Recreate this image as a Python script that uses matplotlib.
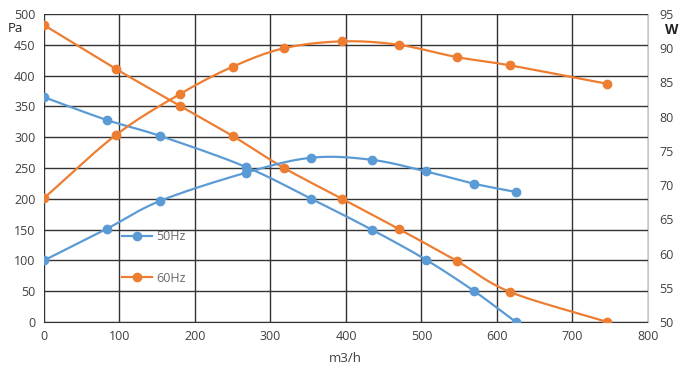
import numpy as np
import matplotlib.pyplot as plt

# airflow m3/h
flow_50 = [0, 83, 154, 267, 354, 434, 506, 570, 625]
flow_60 = [0, 95, 180, 250, 318, 395, 470, 547, 617, 746]

# static pressure, Pa (left axis)
pa_50 = [365, 328, 302, 252, 200, 150, 101, 50, 0]
pa_60 = [482, 411, 351, 302, 250, 200, 151, 99, 49, 0]

# power, W (right axis)
w_50 = [59.0, 63.6, 67.7, 71.8, 74.0, 73.7, 72.0, 70.2, 69.0]
w_60 = [68.1, 77.3, 83.3, 87.3, 90.0, 91.0, 90.5, 88.7, 87.5, 84.8]

blue = "#5B9BD5"
orange = "#ED7D31"


def smooth(x, y, n=20):
    # catmull-rom curve through the points, like Excel's smoothed line
    x = np.asarray(x, float)
    y = np.asarray(y, float)
    px = np.concatenate([[2 * x[0] - x[1]], x, [2 * x[-1] - x[-2]]])
    py = np.concatenate([[2 * y[0] - y[1]], y, [2 * y[-1] - y[-2]]])
    xs, ys = [], []
    t = np.linspace(0, 1, n)
    for i in range(1, len(px) - 2):
        for p, out in ((px, xs), (py, ys)):
            p0, p1, p2, p3 = p[i - 1], p[i], p[i + 1], p[i + 2]
            out.append(0.5 * ((2 * p1) + (-p0 + p2) * t
                              + (2 * p0 - 5 * p1 + 4 * p2 - p3) * t ** 2
                              + (-p0 + 3 * p1 - 3 * p2 + p3) * t ** 3))
    return np.concatenate(xs), np.concatenate(ys)


plt.rcParams['font.family'] = ['Open Sans', 'DejaVu Sans']
fig = plt.figure(figsize=(6.84, 3.75), dpi=100)
ax = fig.add_axes([0.0643, 0.1413, 0.8830, 0.8214])
ax2 = ax.twinx()

ax.set_xlim(0, 800)
ax.set_ylim(0, 500)
ax2.set_ylim(50, 95)
ax.set_xticks(range(0, 801, 100))
ax.set_yticks(range(0, 501, 50))
ax2.set_yticks(range(50, 96, 5))

ax.grid(True, color="#333333", linewidth=1.0)
ax.set_axisbelow(True)
for a in (ax, ax2):
    for s in a.spines.values():
        s.set_visible(False)
    a.tick_params(length=0, labelsize=9, colors="#404040")
ax2.spines["right"].set_visible(True)
ax2.spines["right"].set_color("#c8c8c8")
ax.spines["bottom"].set_visible(True)
ax.spines["bottom"].set_color("#333333")
ax.tick_params(axis="x", pad=6)
ax.tick_params(axis="y", pad=6)
ax2.tick_params(axis="y", pad=8)

ms = 6

# pressure curves
sx, sy = smooth(flow_50, pa_50)
ax.plot(sx, sy, color=blue, lw=1.6, zorder=3)
ax.plot(flow_50, pa_50, "o", color=blue, ms=ms, zorder=4)
sx, sy = smooth(flow_60, pa_60)
ax.plot(sx, sy, color=orange, lw=1.6, zorder=3)
ax.plot(flow_60, pa_60, "o", color=orange, ms=ms, zorder=4)

# power curves
sx, sy = smooth(flow_50, w_50)
ax2.plot(sx, sy, color=blue, lw=1.6, zorder=3)
ax2.plot(flow_50, w_50, "o", color=blue, ms=ms, zorder=4)
sx, sy = smooth(flow_60, w_60)
ax2.plot(sx, sy, color=orange, lw=1.6, zorder=3)
ax2.plot(flow_60, w_60, "o", color=orange, ms=ms, zorder=4)

h1, = ax2.plot([], [], "-o", color=blue, lw=1.6, ms=ms)
h2, = ax2.plot([], [], "-o", color=orange, lw=1.6, ms=ms)
leg = ax2.legend([h1, h2], ["50Hz", "60Hz"], loc="center left",
                 bbox_to_anchor=(0.11, 0.21), frameon=False, fontsize=9,
                 labelspacing=2.3, handlelength=2.4, handletextpad=0.4,
                 labelcolor="#6a6a6a")

fig.text(0.012, 0.915, "Pa", fontsize=9.5, color="#222222")
fig.text(0.972, 0.92, "W", fontsize=10, color="#222222", ha="left",
         va="center", fontweight="bold")
fig.text(0.505, 0.035, "m3/h", fontsize=9.5, color="#404040", ha="center")

fig.savefig("out.png", dpi=100)
